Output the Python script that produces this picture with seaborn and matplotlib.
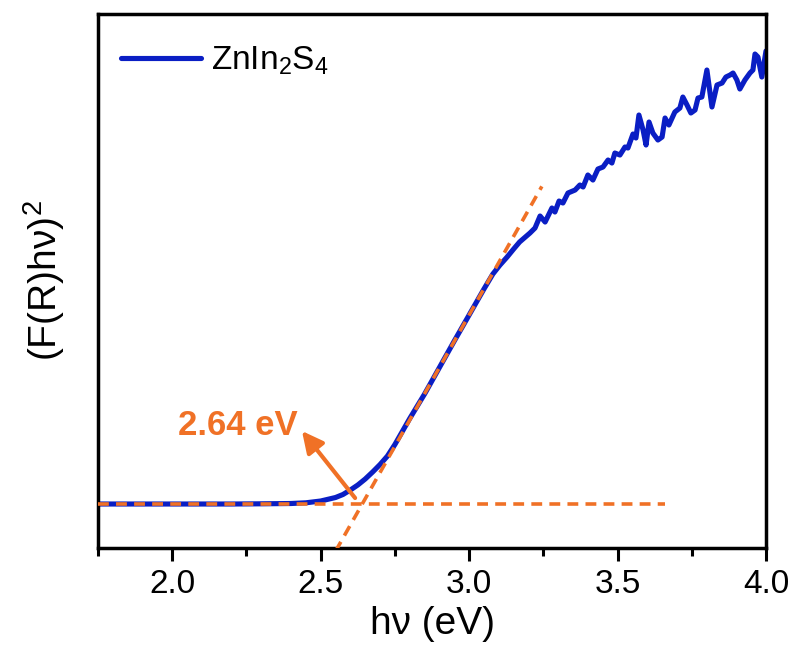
import matplotlib
matplotlib.use("Agg")
import matplotlib.pyplot as plt
from matplotlib.ticker import MultipleLocator
import seaborn as sns
import numpy as np

# Kubelka-Munk transformed spectrum of ZnIn2S4 (Tauc plot)
hv = [1.75, 1.90, 2.05, 2.20, 2.30, 2.40, 2.45, 2.50, 2.55, 2.575, 2.60, 2.625,
      2.65, 2.675, 2.70, 2.725, 2.75, 2.775, 2.80, 2.85, 2.90, 2.95, 3.00, 3.05,
      3.080, 3.104, 3.128, 3.150, 3.170, 3.205, 3.222, 3.239, 3.256, 3.279, 3.289,
      3.303, 3.316, 3.333, 3.357, 3.373, 3.384, 3.400, 3.417, 3.434, 3.451, 3.468,
      3.481, 3.491, 3.508, 3.525, 3.535, 3.552, 3.562, 3.572, 3.586, 3.596, 3.606,
      3.619, 3.636, 3.650, 3.660, 3.673, 3.693, 3.710, 3.720, 3.734, 3.747, 3.761,
      3.771, 3.784, 3.801, 3.818, 3.835, 3.852, 3.865, 3.879, 3.889, 3.902, 3.912,
      3.929, 3.946, 3.956, 3.963, 3.973, 3.986, 4.000]
fr_hv2 = [0.0, 0.0, 0.0, 0.0, 0.002, 0.005, 0.012, 0.03, 0.065, 0.095, 0.14, 0.19,
          0.25, 0.32, 0.395, 0.48, 0.595, 0.725, 0.855, 1.10, 1.365, 1.63, 1.89, 2.15,
          2.30, 2.39, 2.47, 2.55, 2.62, 2.71, 2.76, 2.88, 2.82, 2.96, 2.92,
          3.03, 3.01, 3.11, 3.14, 3.19, 3.17, 3.29, 3.24, 3.35, 3.37, 3.44,
          3.41, 3.51, 3.49, 3.57, 3.56, 3.70, 3.66, 3.89, 3.74, 3.59, 3.82,
          3.71, 3.64, 3.67, 3.86, 3.79, 3.92, 3.96, 4.07, 3.99, 3.91, 3.94,
          4.06, 4.07, 4.34, 3.97, 4.19, 4.21, 4.27, 4.29, 4.31, 4.24, 4.15,
          4.24, 4.31, 4.34, 4.50, 4.47, 4.27, 4.53]

# Linear fit of the absorption edge and the baseline
edge_eV = 2.64
edge_slope = 5.25
tangent_hv = [2.52, 3.245]
baseline_hv = [1.75, 3.66]
baseline_level = 0.0

x_major = [2.0, 2.5, 3.0, 3.5, 4.0]

blue = "#0A1EC4"
orange = "#F07126"

sns.set_theme(style="ticks")
plt.rcParams["font.family"] = ["Liberation Sans", "DejaVu Sans"]
plt.rcParams["mathtext.default"] = "regular"
plt.rcParams["text.color"] = "black"

fig = plt.figure(figsize=(7.95, 6.52), dpi=100)
ax = fig.add_axes([0.1233, 0.1595, 0.8402, 0.819])

sns.lineplot(x=hv, y=fr_hv2, color=blue, lw=3.7, estimator=None, sort=False,
             label="ZnIn$_2$S$_4$", ax=ax, zorder=2)

tan_x = np.array(tangent_hv)
tan_y = edge_slope * (tan_x - edge_eV)
sns.lineplot(x=tan_x, y=tan_y, color=orange, lw=2.6, ax=ax,
             zorder=3, legend=False).lines[-1].set_dashes((3, 2))
base_x = np.array(baseline_hv)
base_y = np.full_like(base_x, baseline_level)
sns.lineplot(x=base_x, y=base_y, color=orange, lw=2.6, ax=ax, zorder=3,
             legend=False).lines[-1].set_dashes((3, 2))

ax.annotate("", xy=(2.437, 0.73), xytext=(2.616, 0.06),
            arrowprops=dict(arrowstyle="-|>", color=orange, lw=3,
                            mutation_scale=32, shrinkA=0, shrinkB=0),
            zorder=4)
ax.text(2.22, 0.79, f"{edge_eV:.2f} eV", color=orange, fontsize=25,
        fontweight="bold", ha="center", va="center")

ax.set_xlim(1.75, 4.0)
ax.set_ylim(-0.44, 4.90)
ax.set_xticks(x_major)
ax.set_xticklabels([f"{t:.1f}" for t in x_major])
ax.xaxis.set_minor_locator(MultipleLocator(0.25))
ax.set_yticks([])
ax.tick_params(axis="x", which="major", direction="out", length=9.4, width=2.2,
               labelsize=24, pad=6, color="black", labelcolor="black")
ax.tick_params(axis="x", which="minor", direction="out", length=5.8, width=2.2,
               color="black")
for s in ax.spines.values():
    s.set_linewidth(2.5)
    s.set_color("black")

ax.set_xlabel("h\u03bd (eV)", fontsize=28, labelpad=4, color="black")
ax.set_ylabel("(F(R)h\u03bd)$^2$", fontsize=28, labelpad=22, color="black")

leg = ax.legend(loc="upper left", bbox_to_anchor=(0.034, 0.942), frameon=False,
                fontsize=24, handlelength=2.4, handletextpad=0.3,
                borderaxespad=0, borderpad=0)
for h in leg.get_lines():
    h.set_linewidth(3.7)
for t in leg.get_texts():
    t.set_color("black")

fig.savefig("out.png", dpi=100, facecolor="white")
